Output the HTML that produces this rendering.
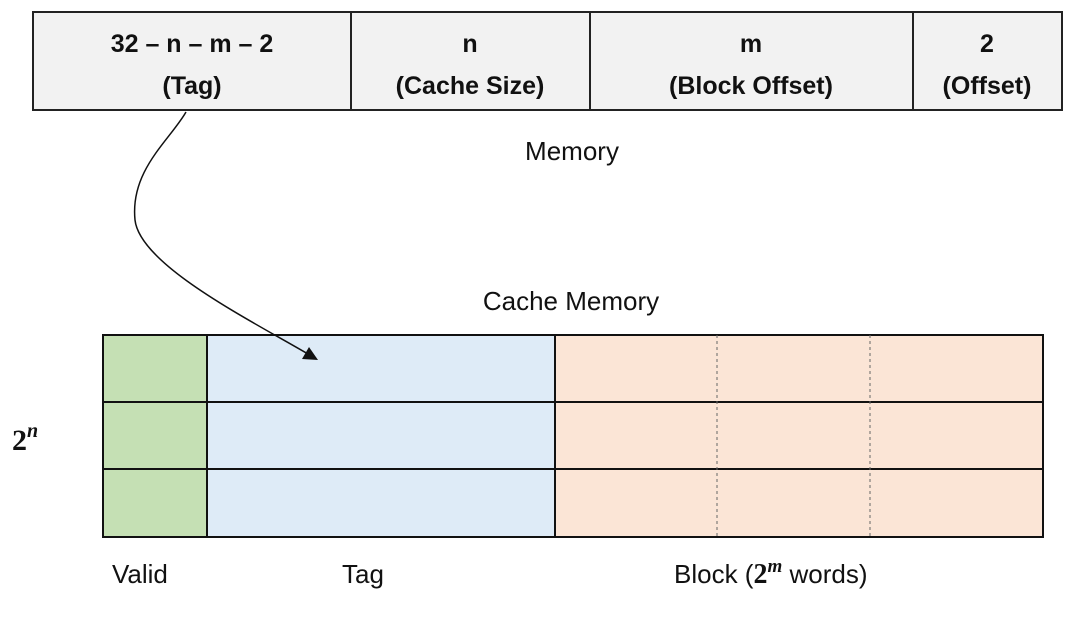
<!DOCTYPE html>
<html><head><style>
html,body{margin:0;padding:0;background:#fff;width:1076px;height:618px;overflow:hidden}
svg{display:block}
</style></head><body>
<svg width="1076" height="618" viewBox="0 0 1076 618" xmlns="http://www.w3.org/2000/svg" font-family="Liberation Sans, sans-serif">
<rect x="33" y="12" width="1029" height="98" fill="#f2f2f2" stroke="#222" stroke-width="2"/>
<line x1="351" y1="12" x2="351" y2="110" stroke="#222" stroke-width="2"/>
<line x1="590" y1="12" x2="590" y2="110" stroke="#222" stroke-width="2"/>
<line x1="913" y1="12" x2="913" y2="110" stroke="#222" stroke-width="2"/>
<g font-weight="bold" font-size="25" text-anchor="middle" fill="#111">
<text x="192" y="52">32 – n – m – 2</text><text x="192" y="94">(Tag)</text>
<text x="470" y="52">n</text><text x="470" y="94">(Cache Size)</text>
<text x="751" y="52">m</text><text x="751" y="94">(Block Offset)</text>
<text x="987" y="52">2</text><text x="987" y="94">(Offset)</text>
</g>
<text x="572" y="160" font-size="26" text-anchor="middle" fill="#111">Memory</text>
<text x="571" y="310" font-size="26" text-anchor="middle" fill="#111">Cache Memory</text>
<rect x="103" y="335" width="104" height="202" fill="#c5e0b4"/>
<rect x="207" y="335" width="348" height="202" fill="#deebf7"/>
<rect x="555" y="335" width="488" height="202" fill="#fbe5d6"/>
<g stroke="#111" stroke-width="2" fill="none">
<rect x="103" y="335" width="940" height="202"/>
<line x1="103" y1="402" x2="1043" y2="402"/>
<line x1="103" y1="469" x2="1043" y2="469"/>
<line x1="207" y1="335" x2="207" y2="537"/>
<line x1="555" y1="335" x2="555" y2="537"/>
</g>
<g stroke="#666" stroke-width="1" stroke-dasharray="3,3">
<line x1="717" y1="335" x2="717" y2="537"/>
<line x1="870" y1="335" x2="870" y2="537"/>
</g>
<path d="M186 112 C170 140 130 170 135 220 C140 265 250 320 308 354" fill="none" stroke="#111" stroke-width="1.5"/>
<polygon points="318,360 302,359 309,347" fill="#111"/>
<text x="12" y="450" font-family="Liberation Serif, serif" font-weight="bold" font-size="30" fill="#111">2<tspan font-style="italic" font-size="20" dy="-13">n</tspan></text>
<text x="112" y="583" font-size="26" fill="#111">Valid</text>
<text x="342" y="583" font-size="26" fill="#111">Tag</text>
<text x="674" y="583" font-size="26" fill="#111">Block (<tspan font-family="Liberation Serif, serif" font-weight="bold" font-size="28">2</tspan><tspan font-family="Liberation Serif, serif" font-style="italic" font-weight="bold" font-size="19" dy="-11">m</tspan><tspan dy="11"> words)</tspan></text>
</svg>
</body></html>
